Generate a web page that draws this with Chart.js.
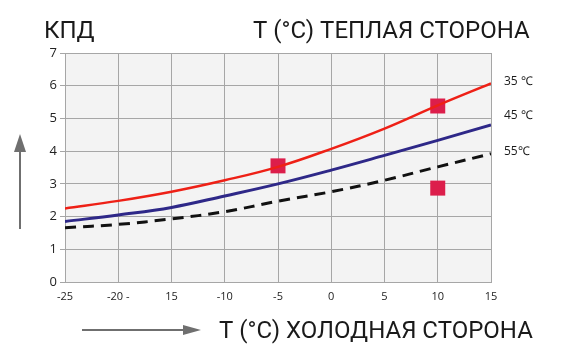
<!DOCTYPE html>
<html>
<head>
<meta charset="utf-8">
<script src="https://cdn.jsdelivr.net/npm/chart.js@4"></script>
<style>
  html, body { margin: 0; padding: 0; background: #fff; }
  #wrap { width: 561px; height: 360px; position: relative; }
</style>
</head>
<body>
<div id="wrap"><canvas id="cop-chart" width="561" height="360"></canvas></div>
<script>
// data
const coldTemps = [-25, -20, -15, -10, -5, 0, 5, 10, 15];
const xTickLabels = ['-25', '-20 -', '15', '-10', '-5', '0', '5', '10', '15'];
const cop35 = [2.25, 2.48, 2.76, 3.11, 3.52, 4.07, 4.69, 5.4, 6.07];
const cop45 = [1.85, 2.05, 2.28, 2.63, 3.0, 3.42, 3.87, 4.33, 4.8];
const cop55 = [1.66, 1.76, 1.93, 2.15, 2.47, 2.76, 3.11, 3.52, 3.92];
const markX = [-5, 10, 10];
const markY = [3.55, 5.38, 2.87];
const seriesLabels = ['35 ℃', '45 ℃', '55℃'];

const ctx = document.getElementById('cop-chart').getContext('2d');

function toPoints(xs, ys) {
    return xs.map((x, i) => ({ x: x, y: ys[i] }));
}

const decorPlugin = {
    id: 'decor',
    beforeDraw(chart) {
        const a = chart.chartArea;
        const c = chart.ctx;
        c.save();
        c.fillStyle = '#f3f3f3';
        c.fillRect(a.left, a.top, a.right - a.left, a.bottom - a.top);
        c.restore();
    },
    afterDraw(chart) {
        const c = chart.ctx;
        const a = chart.chartArea;
        c.save();
        c.fillStyle = '#1a1a1a';
        c.textBaseline = 'alphabetic';
        c.font = '24px Roboto';
        c.textAlign = 'left';
        c.fillText('КПД', 44, 38);
        c.fillText('Т (°С) ТЕПЛАЯ СТОРОНА', 253, 38);
        c.fillText('Т (°С) ХОЛОДНАЯ СТОРОНА', 219, 338);

        // series labels to the right of the plot
        c.font = '12px "Open Sans"';
        c.textBaseline = 'middle';
        const labelY = [82, 116, 152];
        seriesLabels.forEach((t, i) => {
            c.fillText(t, a.right + 13, labelY[i]);
        });

        // arrows
        c.strokeStyle = '#6f6f6f';
        c.fillStyle = '#6f6f6f';
        c.lineWidth = 2;
        c.beginPath();
        c.moveTo(20, 229);
        c.lineTo(20, 145);
        c.stroke();
        c.beginPath();
        c.moveTo(14, 152);
        c.lineTo(20, 134);
        c.lineTo(26, 152);
        c.closePath();
        c.fill();

        c.beginPath();
        c.moveTo(82, 330);
        c.lineTo(190, 330);
        c.stroke();
        c.beginPath();
        c.moveTo(183, 325);
        c.lineTo(201, 330);
        c.lineTo(183, 335);
        c.closePath();
        c.fill();
        c.restore();
    }
};

new Chart(ctx, {
    type: 'line',
    data: {
        datasets: [
            {
                label: seriesLabels[0],
                data: toPoints(coldTemps, cop35),
                borderColor: '#ee2016',
                borderWidth: 2.5,
                pointRadius: 0,
                tension: 0.4,
                fill: false
            },
            {
                label: seriesLabels[1],
                data: toPoints(coldTemps, cop45),
                borderColor: '#2e2888',
                borderWidth: 3,
                pointRadius: 0,
                tension: 0.4,
                fill: false
            },
            {
                label: seriesLabels[2],
                data: toPoints(coldTemps, cop55),
                borderColor: '#111111',
                borderWidth: 3,
                borderDash: [11, 7],
                pointRadius: 0,
                tension: 0.4,
                fill: false
            },
            {
                type: 'scatter',
                label: 'points',
                data: toPoints(markX, markY),
                pointStyle: 'rect',
                pointRadius: 10.6,
                backgroundColor: '#dc1e4b',
                borderWidth: 0,
                showLine: false
            }
        ]
    },
    options: {
        responsive: false,
        animation: false,
        layout: { padding: { top: 53, right: 70, left: 0, bottom: 0 } },
        plugins: {
            legend: { display: false },
            tooltip: { enabled: false }
        },
        scales: {
            x: {
                type: 'linear',
                min: -25,
                max: 15,
                afterBuildTicks: s => { s.ticks = coldTemps.map(v => ({ value: v })); },
                afterFit: s => { s.height = 78; },
                grid: { color: '#a6a6a6', lineWidth: 1, tickLength: 0 },
                border: { color: '#a6a6a6' },
                ticks: {
                    padding: 8,
                    color: '#222',
                    font: { family: 'Open Sans', size: 11 },
                    maxRotation: 0,
                    callback: (v) => xTickLabels[coldTemps.indexOf(v)]
                }
            },
            y: {
                min: 0,
                max: 7,
                afterFit: s => { s.width = 65; },
                grid: { color: '#a6a6a6', lineWidth: 1, tickLength: 5 },
                border: { color: '#a6a6a6' },
                ticks: {
                    stepSize: 1,
                    padding: 3,
                    color: '#222',
                    font: { family: 'Open Sans', size: 13 }
                }
            }
        }
    },
    plugins: [decorPlugin]
});
</script>
</body>
</html>
